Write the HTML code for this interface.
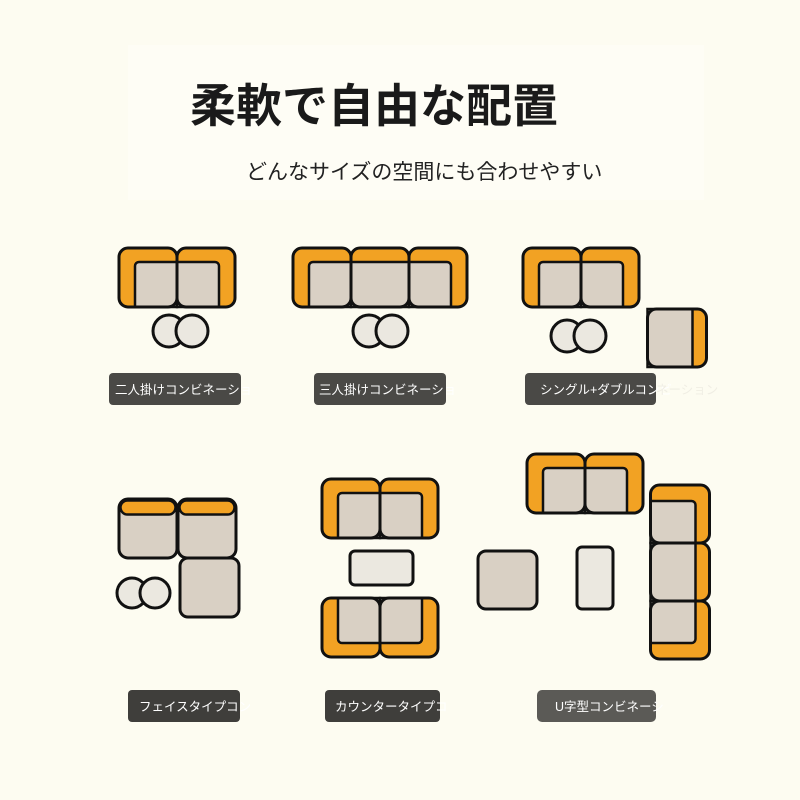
<!DOCTYPE html>
<html><head><meta charset="utf-8"><style>
html,body{margin:0;padding:0;background:#fdfcf1;}
svg{display:block}
text{font-family:"Liberation Sans","Noto Sans CJK JP",sans-serif}
</style></head><body>
<svg width="800" height="800" viewBox="0 0 800 800" xmlns="http://www.w3.org/2000/svg">
<defs>
<g id="L"><rect x="0" y="0" width="58" height="59" rx="9" fill="#f2a223"/><path d="M16 59 V18 a4 4 0 0 1 4 -4 H58 V59 Z" fill="#d9d0c4" stroke="#111" stroke-width="2.5"/><rect x="0" y="0" width="58" height="59" rx="9" fill="none" stroke="#111" stroke-width="3"/></g>
<g id="R"><rect x="0" y="0" width="58" height="59" rx="9" fill="#f2a223"/><path d="M0 59 V14 H38 a4 4 0 0 1 4 4 V59 Z" fill="#d9d0c4" stroke="#111" stroke-width="2.5"/><rect x="0" y="0" width="58" height="59" rx="9" fill="none" stroke="#111" stroke-width="3"/></g>
<g id="M"><rect x="0" y="0" width="58" height="59" rx="9" fill="#f2a223"/><rect x="0" y="14" width="58" height="45" fill="#d9d0c4" stroke="#111" stroke-width="2.5"/><rect x="0" y="0" width="58" height="59" rx="9" fill="none" stroke="#111" stroke-width="3"/></g>
<g id="F"><rect x="0" y="0" width="58" height="59" rx="9" fill="#d9d0c4" stroke="#111" stroke-width="3"/><rect x="1.5" y="1.5" width="55" height="14" rx="7" fill="#f2a223" stroke="#111" stroke-width="2.5"/></g>
</defs>
<rect x="128" y="45" width="576" height="155" fill="#fefefa" opacity="0.45"/>
<text x="190" y="122" font-size="46" font-weight="bold" fill="#1a1a1a">柔軟で自由な配置</text>
<text x="246" y="179" font-size="21" fill="#222">どんなサイズの空間にも合わせやすい</text>

<use href="#L" x="119" y="248"/><use href="#R" x="177" y="248"/>
<g fill="#ebe8e0" stroke="#111" stroke-width="3"><circle cx="169" cy="331" r="16"/><circle cx="192" cy="331" r="16"/></g>
<use href="#L" x="293" y="248"/><use href="#M" x="351" y="248"/><use href="#R" x="409" y="248"/>
<g fill="#ebe8e0" stroke="#111" stroke-width="3"><circle cx="369" cy="331" r="16"/><circle cx="392" cy="331" r="16"/></g>
<use href="#L" x="523" y="248"/><use href="#R" x="581" y="248"/>
<g fill="#ebe8e0" stroke="#111" stroke-width="3"><circle cx="567" cy="336" r="16"/><circle cx="590" cy="336" r="16"/></g>
<g transform="translate(677,338) rotate(90) translate(-29,-29.5)"><use href="#M"/></g>

<rect x="109" y="373" width="132" height="32" rx="4" fill="#4a4946"/>
<text x="115" y="394" font-size="12.5" fill="#fff">二人掛けコンビネーショ</text>
<rect x="314" y="373" width="132" height="32" rx="4" fill="#4a4946"/>
<text x="319" y="394" font-size="12.5" fill="#fff">三人掛けコンビネーショ</text>
<rect x="525" y="373" width="131" height="32" rx="4" fill="#4a4946"/>
<text x="540" y="394" font-size="12.5" fill="#fff">シングル+ダブルコンビ</text>
<text x="656" y="394" font-size="12.5" fill="#f0eee4">ネーション</text>

<use href="#F" x="119" y="499"/><use href="#F" x="178" y="499"/>
<rect x="180" y="558" width="59" height="59" rx="8" fill="#d9d0c4" stroke="#111" stroke-width="3"/>
<g fill="#ebe8e0" stroke="#111" stroke-width="3"><circle cx="132" cy="593" r="15"/><circle cx="155" cy="593" r="15"/></g>
<use href="#L" x="322" y="479"/><use href="#R" x="380" y="479"/>
<rect x="350" y="551" width="63" height="34" rx="5" fill="#ebe8e0" stroke="#111" stroke-width="3"/>
<g transform="translate(351,627.5) rotate(180) translate(-29,-29.5)"><use href="#R"/></g>
<g transform="translate(409,627.5) rotate(180) translate(-29,-29.5)"><use href="#L"/></g>
<use href="#L" x="527" y="454"/><use href="#R" x="585" y="454"/>
<g transform="translate(680,514) rotate(90) translate(-29,-29.5)"><use href="#L"/></g>
<g transform="translate(680,572) rotate(90) translate(-29,-29.5)"><use href="#M"/></g>
<g transform="translate(680,630) rotate(90) translate(-29,-29.5)"><use href="#R"/></g>
<rect x="478" y="551" width="59" height="58" rx="8" fill="#d9d0c4" stroke="#111" stroke-width="3"/>
<rect x="577" y="547" width="36" height="62" rx="5" fill="#ebe8e0" stroke="#111" stroke-width="3"/>

<rect x="128" y="690" width="112" height="32" rx="4" fill="#3f3e3b"/>
<text x="139" y="711" font-size="12.5" fill="#fff">フェイスタイプコン</text>
<rect x="325" y="690" width="115" height="32" rx="4" fill="#3f3e3b"/>
<text x="335" y="711" font-size="12.5" fill="#fff">カウンタータイプコ</text>
<rect x="537" y="690" width="119" height="32" rx="5" fill="#5b5a56"/>
<text x="555" y="711" font-size="12.5" fill="#fff">U字型コンビネーシ</text>
</svg>
</body></html>
